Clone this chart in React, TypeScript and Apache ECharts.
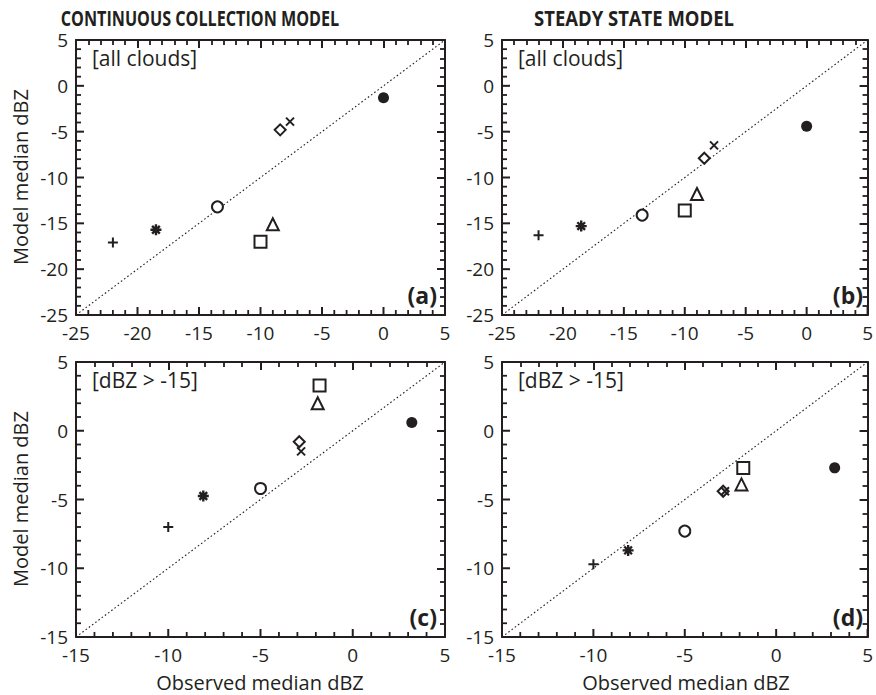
import React, { useEffect, useRef } from "react";
import * as echarts from "echarts";

// Marker order: plus, asterisk, open circle, square, triangle, diamond, cross, filled dot
const markerNames = ["plus", "asterisk", "circle", "square", "triangle", "diamond", "cross", "dot"];

// Panels (a),(b): all clouds
const obsAll = [-22.0, -18.5, -13.5, -10.0, -9.0, -8.4, -7.6, 0.0];
const modelCCAll = [-17.1, -15.7, -13.2, -17.0, -15.1, -4.8, -3.9, -1.3];
const modelSSAll = [-16.3, -15.3, -14.1, -13.6, -11.8, -7.9, -6.5, -4.4];

// Panels (c),(d): dBZ > -15
const obsHigh = [-10.0, -8.1, -5.0, -1.8, -1.9, -2.9, -2.8, 3.2];
const modelCCHigh = [-7.0, -4.75, -4.2, 3.3, 2.0, -0.8, -1.5, 0.6];
const modelSSHigh = [-9.7, -8.7, -7.3, -2.7, -3.9, -4.4, -4.4, -2.7];

const rangeAll = [-25, 5];
const rangeHigh = [-15, 5];

const headers = ["CONTINUOUS COLLECTION MODEL", "STEADY STATE MODEL"];
const panelTags = ["(a)", "(b)", "(c)", "(d)"];
const subsetLabels = ["[all clouds]", "[all clouds]", "[dBZ > -15]", "[dBZ > -15]"];
const yName = "Model median dBZ";
const xName = "Observed median dBZ";

const INK = "#231f20";
const FONT = "'Open Sans', 'Noto Sans', sans-serif";

const symbolDefs: Record<string, any> = {
  plus: { symbol: "path://M0,5L10,5M5,0L5,10", size: 10, fill: INK, bw: 2 },
  asterisk: { symbol: "path://M0,5L10,5M5,0L5,10M1.5,1.5L8.5,8.5M1.5,8.5L8.5,1.5", size: 11, fill: INK, bw: 2.4 },
  circle: { symbol: "circle", size: 11, fill: "#fff", bw: 2 },
  square: { symbol: "rect", size: 12, fill: "#fff", bw: 2 },
  triangle: { symbol: "triangle", size: 12, fill: "#fff", bw: 2 },
  diamond: { symbol: "diamond", size: 11, fill: "#fff", bw: 2 },
  cross: { symbol: "path://M0,0L10,10M0,10L10,0", size: 8, fill: INK, bw: 2 },
  dot: { symbol: "circle", size: 11, fill: INK, bw: 0 },
};

export default function App() {
  const ref = useRef<HTMLDivElement>(null);

  useEffect(() => {
    if (!ref.current) return;
    const chart = echarts.init(ref.current, undefined, { renderer: "svg" });

    const rects = [
      { left: 76, top: 40, width: 369, height: 275 },
      { left: 502, top: 40, width: 369, height: 275 },
      { left: 76, top: 362, width: 369, height: 275 },
      { left: 502, top: 362, width: 369, height: 275 },
    ];
    const panels = [
      { x: obsAll, y: modelCCAll, r: rangeAll },
      { x: obsAll, y: modelSSAll, r: rangeAll },
      { x: obsHigh, y: modelCCHigh, r: rangeHigh },
      { x: obsHigh, y: modelSSHigh, r: rangeHigh },
    ];

    const mkAxis = (gi: number, r: number[], position: string, labels: boolean, ticks: boolean) => ({
      type: "value",
      gridIndex: gi,
      position,
      min: r[0],
      max: r[1],
      interval: 5,
      axisLine: { show: true, onZero: false, lineStyle: { color: INK, width: 2 } },
      axisTick: { show: ticks, inside: true, length: 8, lineStyle: { color: INK, width: 2 } },
      minorTick: { show: ticks, splitNumber: 5, length: 5, lineStyle: { color: INK, width: 1.8 } },
      splitLine: { show: false },
      axisLabel: {
        show: labels,
        color: INK,
        fontFamily: FONT,
        fontSize: 19,
        margin: 8,
      },
    });

    const xAxis: any[] = [];
    const yAxis: any[] = [];
    const series: any[] = [];
    panels.forEach((p, gi) => {
      xAxis.push(mkAxis(gi, p.r, "bottom", true, false));
      xAxis.push(mkAxis(gi, p.r, "top", false, true));
      yAxis.push(mkAxis(gi, p.r, "left", true, false));
      yAxis.push(mkAxis(gi, p.r, "right", false, true));
    });

    panels.forEach((p, gi) => {
      // inward ticks on the bottom and left frame edges, placed through the axes' scales
      series.push({
        type: "custom",
        xAxisIndex: gi * 2,
        yAxisIndex: gi * 2,
        data: [[p.r[0], p.r[0]]],
        silent: true,
        clip: false,
        z: 5,
        renderItem: (_params: any, api: any) => {
          const children: any[] = [];
          for (let v = p.r[0]; v <= p.r[1]; v += 1) {
            const major = v % 5 === 0;
            const len = major ? 8 : 5;
            const lw = major ? 2 : 1.8;
            const bx = api.coord([v, p.r[0]]);
            children.push({
              type: "line",
              shape: { x1: bx[0], y1: bx[1], x2: bx[0], y2: bx[1] - len },
              style: { stroke: INK, lineWidth: lw },
            });
            const ly = api.coord([p.r[0], v]);
            children.push({
              type: "line",
              shape: { x1: ly[0], y1: ly[1], x2: ly[0] + len, y2: ly[1] },
              style: { stroke: INK, lineWidth: lw },
            });
          }
          return { type: "group", children };
        },
      });
      series.push({
        type: "line",
        xAxisIndex: gi * 2,
        yAxisIndex: gi * 2,
        data: [
          [p.r[0], p.r[0]],
          [p.r[1], p.r[1]],
        ],
        symbol: "none",
        silent: true,
        lineStyle: { color: INK, width: 1.1, type: [1.6, 2.4] },
        z: 1,
      });
      markerNames.forEach((m, k) => {
        const d = symbolDefs[m];
        series.push({
          type: "scatter",
          name: m,
          xAxisIndex: gi * 2,
          yAxisIndex: gi * 2,
          data: [[p.x[k], p.y[k]]],
          symbol: d.symbol,
          symbolSize: d.size,
          itemStyle: { color: d.fill, borderColor: INK, borderWidth: d.bw, opacity: 1 },
          z: 3,
        });
      });
    });

    const graphic: any[] = [];
    graphic.push({
      type: "text",
      x: 200,
      y: 18,
      scaleX: 0.77,
      style: { text: headers[0], font: `bold 21px ${FONT}`, fill: INK, textAlign: "center", textVerticalAlign: "middle" },
    });
    graphic.push({
      type: "text",
      x: 634,
      y: 18,
      scaleX: 0.88,
      style: { text: headers[1], font: `bold 21px ${FONT}`, fill: INK, textAlign: "center", textVerticalAlign: "middle" },
    });
    rects.forEach((g, i) => {
      graphic.push({
        type: "text",
        x: g.left + 16,
        y: g.top + 18,
        style: { text: subsetLabels[i], font: `21px ${FONT}`, fill: INK, textAlign: "left", textVerticalAlign: "middle" },
      });
      graphic.push({
        type: "text",
        x: g.left + g.width - 8,
        y: g.top + g.height - 20,
        style: { text: panelTags[i], font: `bold 23px ${FONT}`, fill: INK, textAlign: "right", textVerticalAlign: "middle" },
      });
    });
    [40 + 137, 362 + 137].forEach((cy) => {
      graphic.push({
        type: "text",
        x: 20,
        y: cy,
        rotation: Math.PI / 2,
        style: { text: yName, font: `20px ${FONT}`, fill: INK, textAlign: "center", textVerticalAlign: "middle" },
      });
    });
    [76 + 184, 502 + 184].forEach((cx) => {
      graphic.push({
        type: "text",
        x: cx,
        y: 682,
        style: { text: xName, font: `20px ${FONT}`, fill: INK, textAlign: "center", textVerticalAlign: "middle" },
      });
    });

    chart.setOption({
      animation: false,
      backgroundColor: "#fff",
      grid: rects,
      xAxis,
      yAxis,
      series,
      graphic,
    });

    return () => chart.dispose();
  }, []);

  return <div ref={ref} style={{ width: 876, height: 695, position: "absolute", left: 0, top: 0 }} />;
}
